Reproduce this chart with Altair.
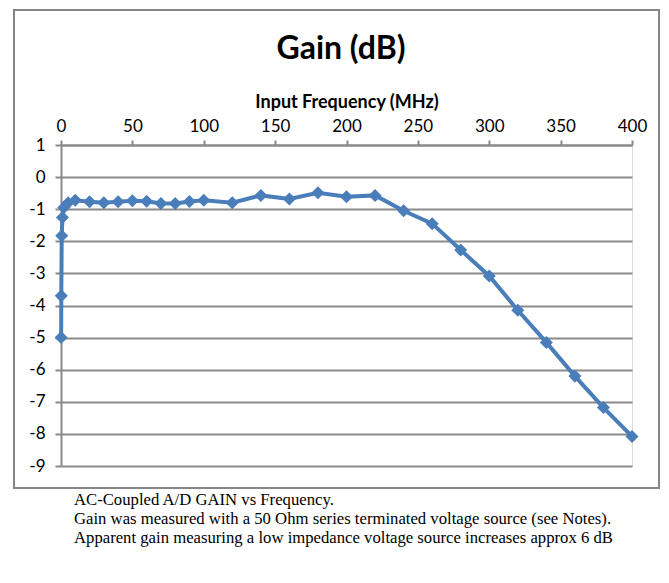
import altair as alt
import pandas as pd

freq_mhz = [0.1, 0.2, 0.5, 1, 2, 5, 10, 20, 30, 40, 50, 60, 70, 80, 90, 100,
            120, 140, 160, 180, 200, 220, 240, 260, 280, 300, 320, 340, 360, 380, 400]
gain_db = [-5.0, -3.7, -1.83, -1.26, -0.95, -0.8, -0.72, -0.77, -0.8, -0.77, -0.74,
           -0.75, -0.82, -0.82, -0.76, -0.72, -0.8, -0.57, -0.68, -0.49, -0.61, -0.57,
           -1.05, -1.45, -2.27, -3.08, -4.15, -5.15, -6.2, -7.18, -8.08]
x_ticks = [0, 50, 100, 150, 200, 250, 300, 350, 400]
y_ticks = [1, 0, -1, -2, -3, -4, -5, -6, -7, -8, -9]
chart_title = "Gain (dB)"
caption_lines = [
    "AC-Coupled A/D GAIN vs Frequency.",
    "Gain was measured with a 50 Ohm series terminated voltage source (see Notes).",
    "Apparent gain measuring a low impedance voltage source increases approx 6 dB",
]

df = pd.DataFrame({"freq": freq_mhz, "gain": gain_db})
one = pd.DataFrame({"a": [0]})

FONT = "Lato"
BLUE = "#4a7ebb"
GRID = "#8a8a8a"
HYPHEN = "replace(datum.label, '\u2212', '-')"

x = alt.X("freq:Q", title="Input Frequency (MHz)",
          scale=alt.Scale(domain=[0, 400], nice=False),
          axis=alt.Axis(orient="top", values=x_ticks, grid=False, domain=True,
                        domainColor=GRID, domainWidth=2, tickColor=GRID, tickWidth=2,
                        tickSize=5, labelFontSize=17, labelFont=FONT, labelColor="#000",
                        labelPadding=5, labelOverlap=False, labelFlush=False,
                        titleFont=FONT, titleFontSize=18, titleFontWeight="bold",
                        titleColor="#000", titlePadding=6))
y = alt.Y("gain:Q", title=None,
          scale=alt.Scale(domain=[-9, 1], nice=False),
          axis=alt.Axis(values=y_ticks, grid=True, gridColor=GRID, gridWidth=2,
                        gridOpacity=1, domainColor=GRID, domainWidth=2, tickColor=GRID,
                        tickWidth=2, tickSize=6, labelFontSize=17, labelFont=FONT,
                        labelColor="#000", labelPadding=10, labelOverlap=False,
                        labelFlush=False, labelExpr=HYPHEN))

line = alt.Chart(df).mark_line(color=BLUE, strokeWidth=4).encode(x=x, y=y)
pts = alt.Chart(df).mark_point(shape="diamond", filled=True, color=BLUE, size=170,
                               opacity=1).encode(x=x, y=y)

box = alt.Chart(one).mark_rect(
    fill=None, stroke="#868686", strokeWidth=2, clip=False
).encode(x=alt.value(-47), x2=alt.value(598), y=alt.value(-135), y2=alt.value(343))

title = alt.Chart(one).mark_text(
    text=chart_title, font=FONT, fontSize=32, fontWeight="bold", color="#000",
    align="center", baseline="middle"
).encode(x=alt.value(280), y=alt.value(-96))

captions = alt.Chart(one).mark_text(
    text=caption_lines, align="left", baseline="middle", font="Liberation Serif",
    fontSize=16.7, lineHeight=19, color="#000"
).encode(x=alt.value(13), y=alt.value(355))

chart = alt.layer(box, line, pts, title, captions).properties(
    width=571, height=321,
    autosize=alt.AutoSizeParams(type="none"),
    padding={"left": 53, "top": 137, "right": 29, "bottom": 100},
).configure_view(stroke=None).configure(background="white")

chart.save("out.html", embed_options={"renderer": "svg", "actions": False})
